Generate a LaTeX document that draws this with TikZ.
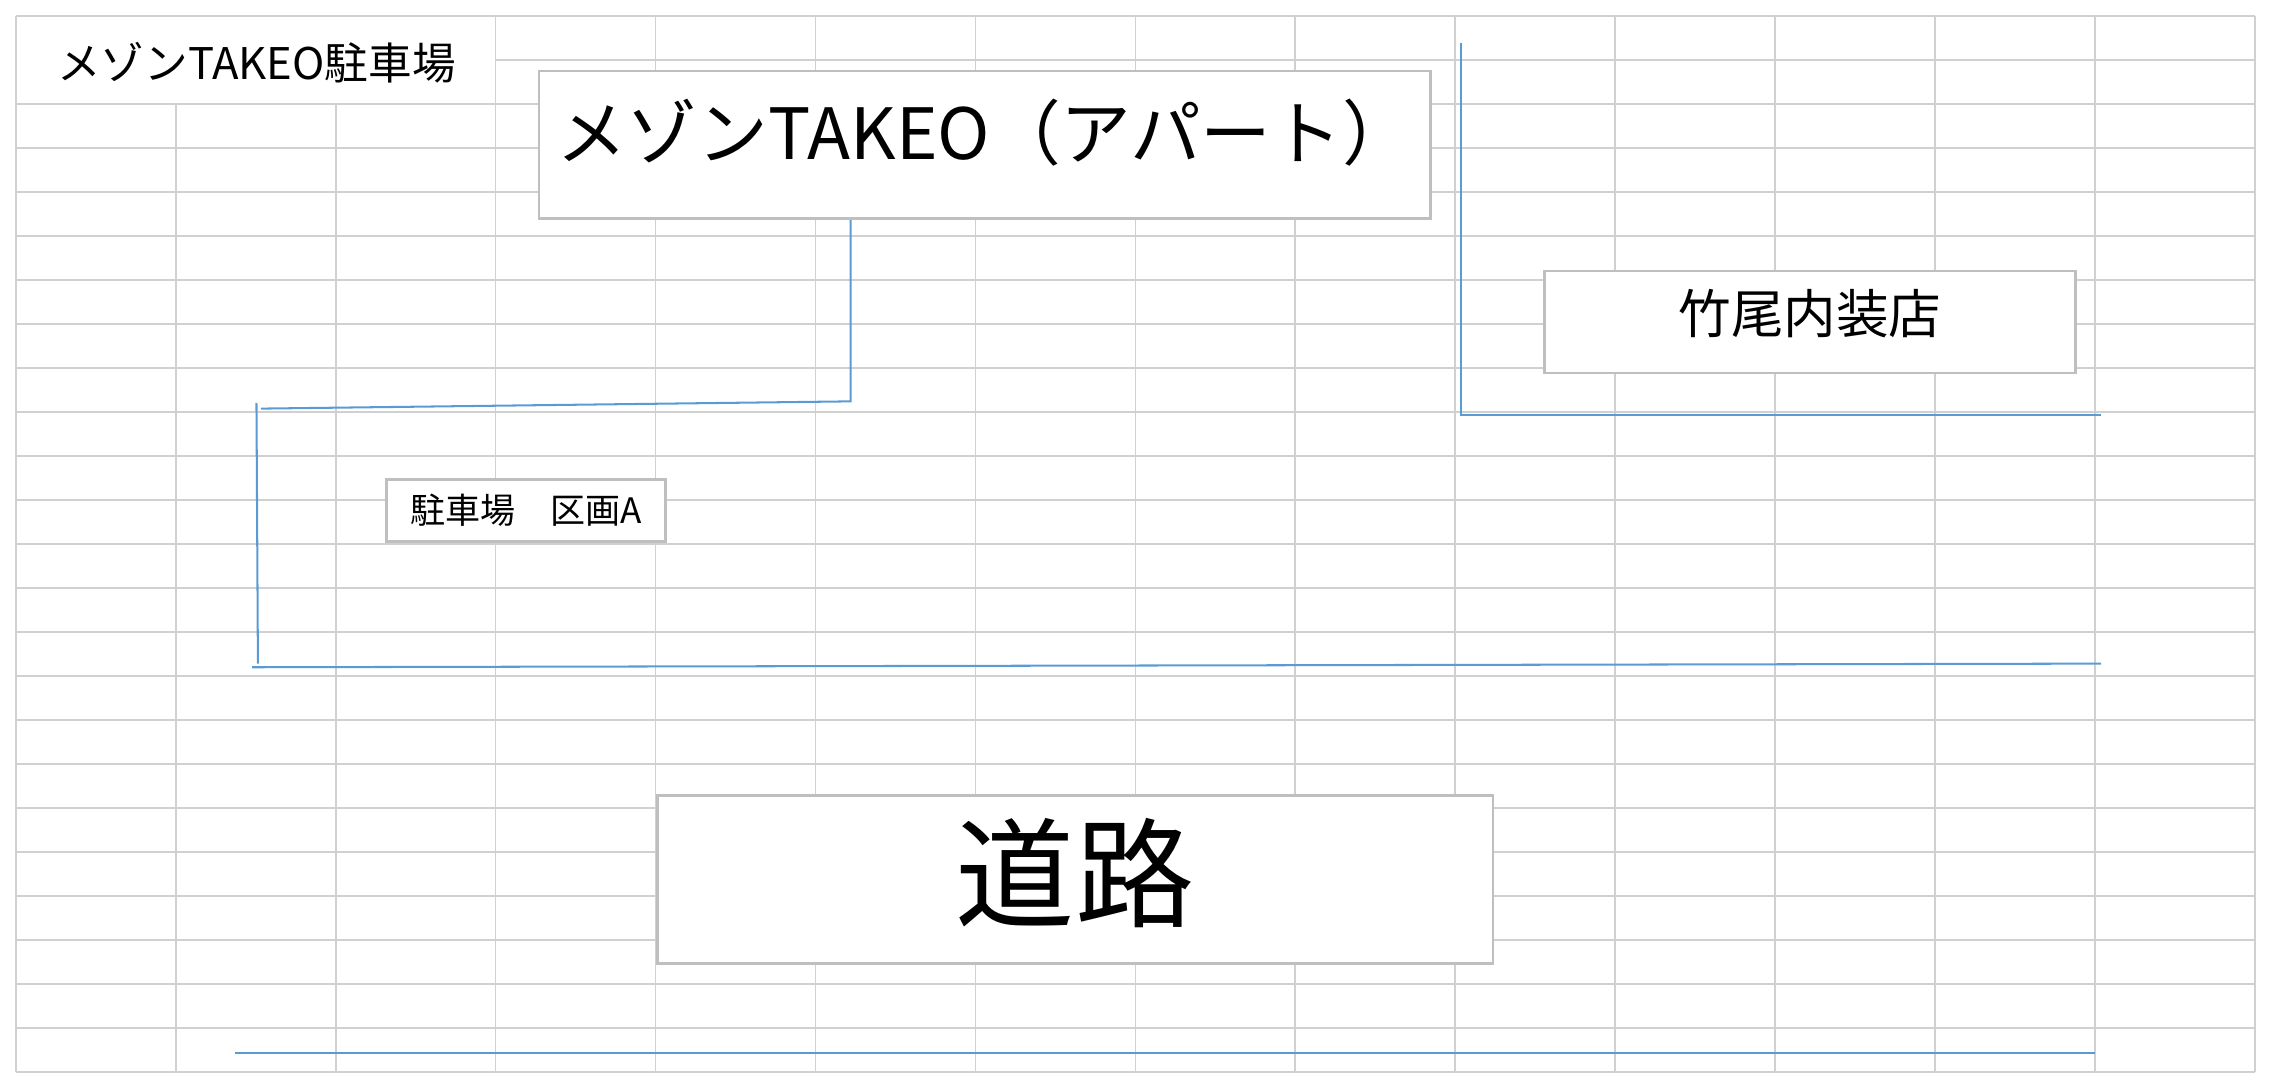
\documentclass[tikz,border=0pt]{standalone}
\usepackage{fontspec}
\setmainfont{Noto Sans CJK JP}
\usetikzlibrary{positioning}
\definecolor{gridgray}{RGB}{208,208,208}
\definecolor{boxgray}{RGB}{191,191,191}
\definecolor{lineblue}{RGB}{91,155,213}
\begin{document}
\begin{tikzpicture}[x=0.25mm, y=-0.25mm,
    cellline/.style={draw=gridgray, line width=0.8pt},
    labelbox/.style={rectangle, draw=boxgray, fill=white, line width=1.4pt, inner sep=0pt},
    fenceline/.style={draw=lineblue, line width=1pt},
  ]
  \useasboundingbox (0,0) rectangle (1568,751);

  % Sheet grid
  \foreach \i in {0,3,4,...,14}
    \draw[cellline] (11+110.36*\i,11) -- (11+110.36*\i,740);
  \foreach \i in {1,2}
    \draw[cellline] (11+110.36*\i,71.75) -- (11+110.36*\i,740);
  \foreach \j in {0,2,3,...,24}
    \draw[cellline] (11,11+30.375*\j) -- (1556,11+30.375*\j);
  \draw[cellline] (342.1,41.4) -- (1556,41.4);

  % Nodes
  \node (title) at (177,43.5) {\fontsize{21.4}{25}\selectfont メゾンTAKEO駐車場};
  \node[labelbox, minimum width=153.75mm, minimum height=25.5mm] (apt) at (679.5,100)
    {\fontsize{34.7}{38}\selectfont\raisebox{2.2mm}[\height][\depth]{メゾンTAKEO（アパート）}};
  \node[labelbox, minimum width=91.6mm, minimum height=17.6mm] (shop) at (1249.25,222.25)
    {\fontsize{25.8}{30}\selectfont\raisebox{1.5mm}[\height][\depth]{竹尾内装店}};
  \node[labelbox, minimum width=48mm, minimum height=10.75mm] (lot) at (363,352.3)
    {\fontsize{17.2}{20}\selectfont 駐車場　区画A};
  \node[labelbox, minimum width=144.2mm, minimum height=29mm] (road) at (742,606.8)
    {\fontsize{58.5}{62}\selectfont\raisebox{1mm}[\height][\depth]{道路}};

  % Lines
  \coordinate (aptbend) at (587,277);
  \coordinate (lotne) at (180,282);
  \coordinate (lottop) at (177,278);
  \coordinate (lotbot) at (178,458);
  \coordinate (lotsw) at (174,460.5);
  \coordinate (lotse) at (1450,458);
  \coordinate (shoptop) at (1008,30);
  \coordinate (shopcorner) at (1008,286.5);
  \coordinate (shopse) at (1450,286.5);
  \coordinate (roadw) at (162,726.5);
  \coordinate (roade) at (1446,726.5);

  \draw[fenceline] (apt.south -| aptbend) -- (aptbend) -- (lotne);
  \draw[fenceline] (lottop) -- (lotbot);
  \draw[fenceline] (lotsw) -- (lotse);
  \draw[fenceline] (shoptop) -- (shopcorner) -- (shopse);
  \draw[fenceline] (roadw) -- (roade);
\end{tikzpicture}
\end{document}
